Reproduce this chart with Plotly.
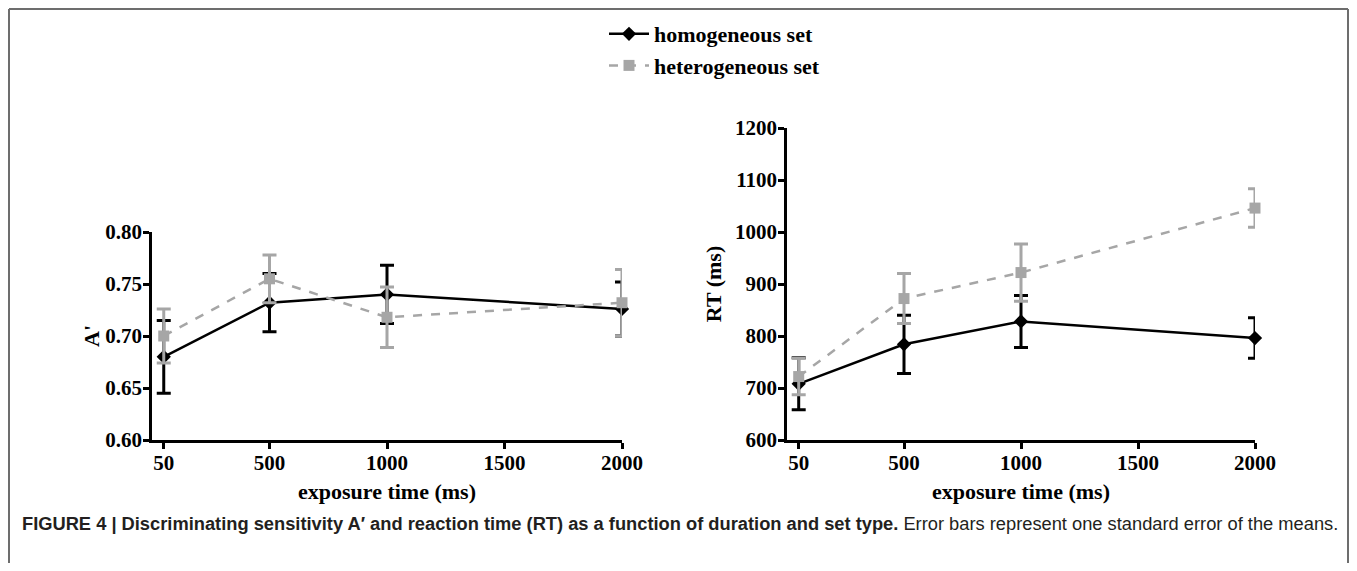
import plotly.graph_objects as go

# ---------------- data ----------------
exposure = [50, 500, 1000, 2000]
x_ticks = [50, 500, 1000, 1500, 2000]

a_homo = [0.680, 0.732, 0.740, 0.726]
a_homo_se = [0.035, 0.028, 0.028, 0.026]
a_hetero = [0.700, 0.755, 0.718, 0.732]
a_hetero_se = [0.026, 0.023, 0.029, 0.032]

rt_homo = [708, 784, 828, 796]
rt_homo_se = [50, 56, 50, 39]
rt_hetero = [722, 872, 922, 1046]
rt_hetero_se = [35, 48, 55, 37]

a_ticks = [0.60, 0.65, 0.70, 0.75, 0.80]
rt_ticks = [600, 700, 800, 900, 1000, 1100, 1200]

series_names = ["homogeneous set", "heterogeneous set"]

# ---------------- style ----------------
OFF = 8                      # page body margin offset
W, H = 1357 - 2 * OFF, 571 - 2 * OFF   # figure fits the window without scrollbars
BLACK = "#000000"
GREY = "#a6a6a6"
SERIF = "Liberation Serif, Times New Roman, serif"
SANS = "Liberation Sans, Arial, sans-serif"


def py(p):
    return 1 - (p - OFF) / H


def px_(p):
    return (p - OFF) / W


fig = go.Figure()


def add_series(x, y, se, name, color, dash, symbol, msize, xa, ya, show):
    fig.add_trace(go.Scatter(
        x=x, y=y, name=name, mode="lines+markers",
        line=dict(color=color, width=2.5, dash=dash),
        marker=dict(symbol=symbol, size=msize, color=color),
        error_y=dict(type="data", array=se, visible=True,
                     color=color, thickness=3, width=7),
        xaxis=xa, yaxis=ya, showlegend=show, cliponaxis=False,
        legendgroup=name,
    ))


add_series(exposure, a_homo, a_homo_se, series_names[0], BLACK, "solid", "diamond", 11, "x", "y", True)
add_series(exposure, a_hetero, a_hetero_se, series_names[1], GREY, "dash", "square", 11, "x", "y", True)
add_series(exposure, rt_homo, rt_homo_se, series_names[0], BLACK, "solid", "diamond", 11, "x2", "y2", False)
add_series(exposure, rt_hetero, rt_hetero_se, series_names[1], GREY, "dash", "square", 11, "x2", "y2", False)

tickfont = dict(family=SERIF, size=21, color=BLACK, weight="bold")
titlefont = dict(family=SERIF, size=22, color=BLACK, weight="bold")

common_x = dict(
    range=[0, 2000], tickmode="array", tickvals=x_ticks,
    ticktext=[str(v) for v in x_ticks],
    showline=True, linecolor=BLACK, linewidth=2.5,
    ticks="outside", ticklen=6, tickwidth=2.5, tickcolor=BLACK,
    ticklabelstandoff=-4,
    showgrid=False, zeroline=False, tickfont=tickfont, automargin=False,
    title=dict(text="exposure time (ms)", font=titlefont, standoff=10),
)
common_y = dict(
    showline=True, linecolor=BLACK, linewidth=2.5,
    ticks="outside", ticklen=6, tickwidth=2.5, tickcolor=BLACK,
    ticklabelstandoff=-3,
    showgrid=False, zeroline=False, tickfont=tickfont, automargin=False,
)

fig.update_layout(
    width=W, height=H,
    margin=dict(l=0, r=0, t=0, b=0, autoexpand=False),
    paper_bgcolor="white", plot_bgcolor="white",
    xaxis=dict(common_x, domain=[px_(152), px_(622)], anchor="y"),
    yaxis=dict(common_y, domain=[py(440), py(232)], anchor="x",
               range=[0.60, 0.80], tickvals=a_ticks,
               ticktext=[f"{v:.2f}" for v in a_ticks],
               title=dict(text="A'", font=titlefont, standoff=0)),
    xaxis2=dict(common_x, domain=[px_(787), px_(1255)], anchor="y2"),
    yaxis2=dict(common_y, domain=[py(440), py(128)], anchor="x2",
                range=[600, 1200], tickvals=rt_ticks,
                ticktext=[str(v) for v in rt_ticks],
                title=dict(text="RT (ms)", font=titlefont, standoff=8)),
    legend=dict(x=px_(604), y=py(13), xanchor="left", yanchor="top",
                font=dict(family=SERIF, size=22, color=BLACK, weight="bold"),
                bgcolor="rgba(0,0,0,0)", tracegroupgap=0, itemwidth=40),
)

# caption
fig.add_annotation(
    x=px_(20), y=py(523), xref="paper", yref="paper",
    xanchor="left", yanchor="middle", showarrow=False,
    text="<b>FIGURE 4 | Discriminating sensitivity A\u2032 and reaction time (RT) as a function of duration and set type.</b> Error bars represent one standard error of the means.",
    font=dict(family=SANS, size=18.3, color="#231f20"),
)

# frame (open at bottom)
frame = dict(color="#6d6d6d", width=2)
xr = px_(1348)
fig.add_shape(type="line", xref="paper", yref="paper", x0=px_(9), x1=xr, y0=py(9), y1=py(9), line=frame)
fig.add_shape(type="line", xref="paper", yref="paper", x0=px_(9), x1=px_(9), y0=py(9), y1=0, line=frame)
fig.add_shape(type="line", xref="paper", yref="paper", x0=xr, x1=xr, y0=py(9), y1=0, line=frame)

fig.write_html("out.html")
